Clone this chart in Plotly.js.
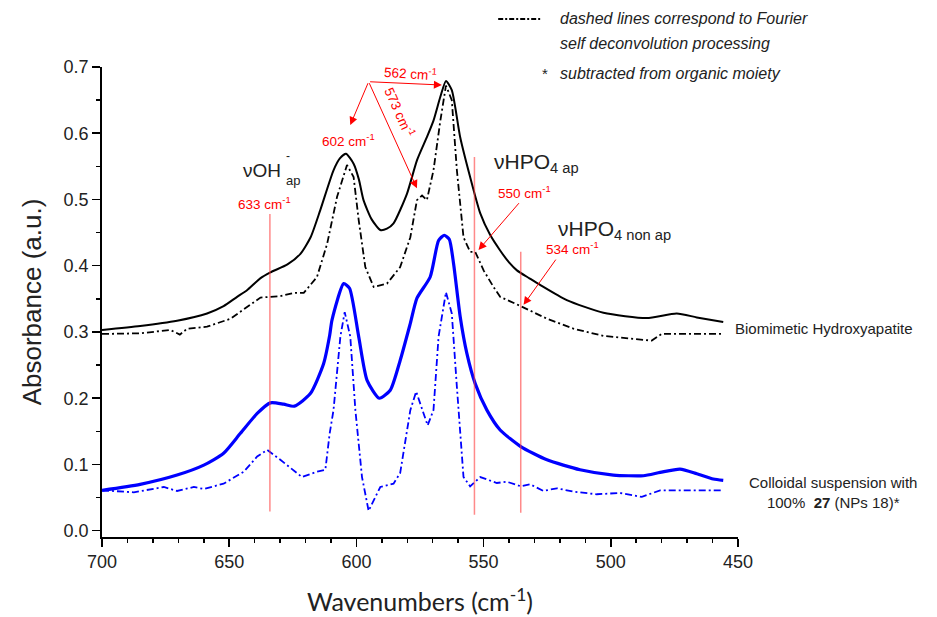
<!DOCTYPE html>
<html>
<head>
<meta charset="utf-8">
<script src="https://cdn.plot.ly/plotly-3.0.1.min.js"></script>
<style>html,body{margin:0;padding:0;background:#fff;}#chart{width:937px;height:617px;}</style>
</head>
<body>
<div id="chart"></div>
<script>
// ---- Data ----
const haSolidX = [700, 685, 670.5, 658.7, 652.2, 646.9, 643, 637.8, 633.8, 627.1, 622, 618, 614.2, 609, 606.5, 604.1, 601.1, 599, 597.2, 594, 590.6, 588, 585.4, 580.1, 576.2, 572.3, 569.7, 567, 564.8, 562.5, 559.2, 555.3, 551.3, 547.5, 543.5, 540, 536.9, 532, 527.8, 517.3, 502.9, 485.9, 474.1, 466.2, 455.8];
const haSolidY = [0.303, 0.309, 0.317, 0.328, 0.339, 0.353, 0.363, 0.381, 0.390, 0.402, 0.418, 0.443, 0.484, 0.544, 0.562, 0.569, 0.554, 0.53, 0.499, 0.47, 0.454, 0.456, 0.464, 0.509, 0.559, 0.594, 0.619, 0.655, 0.679, 0.665, 0.594, 0.534, 0.479, 0.447, 0.423, 0.405, 0.393, 0.381, 0.371, 0.348, 0.329, 0.321, 0.328, 0.322, 0.315];

const haFsdX = [700, 685, 673.1, 669.4, 666.5, 658.7, 649.5, 643, 637.7, 629.9, 624.7, 620.7, 615.5, 611.5, 607.6, 603.7, 601.1, 599.1, 596.5, 593.2, 588, 582.8, 578.8, 576.2, 574.2, 572.3, 569.7, 567, 564.8, 562.5, 560.5, 557.9, 555.3, 553.3, 550, 546.1, 543.5, 535.4, 525.1, 514.7, 502.9, 492.4, 483.9, 480, 455.8];
const haFsdY = [0.297, 0.298, 0.303, 0.296, 0.305, 0.308, 0.320, 0.338, 0.352, 0.354, 0.359, 0.359, 0.383, 0.433, 0.504, 0.552, 0.534, 0.469, 0.398, 0.368, 0.373, 0.398, 0.443, 0.499, 0.506, 0.499, 0.544, 0.619, 0.672, 0.650, 0.544, 0.443, 0.421, 0.421, 0.393, 0.368, 0.353, 0.339, 0.320, 0.305, 0.294, 0.290, 0.287, 0.297, 0.297];

const colSolidX = [700, 685, 670.5, 660, 652.2, 645.6, 639, 633.8, 628.6, 624.4, 618.1, 612.9, 610.5, 609.6, 605, 602.7, 599.1, 595.8, 591, 586.7, 582.8, 578.8, 576.2, 571, 567.7, 565.5, 563.5, 561.8, 559.2, 556.6, 553.3, 548.7, 543.5, 535.4, 525.1, 512.1, 499, 487.2, 480.6, 472.8, 466.2, 459.7, 455.8];
const colSolidY = [0.061, 0.070, 0.084, 0.099, 0.117, 0.147, 0.177, 0.193, 0.191, 0.188, 0.207, 0.252, 0.295, 0.318, 0.373, 0.366, 0.293, 0.227, 0.200, 0.212, 0.257, 0.313, 0.351, 0.383, 0.438, 0.446, 0.440, 0.403, 0.323, 0.268, 0.222, 0.182, 0.152, 0.127, 0.107, 0.092, 0.084, 0.083, 0.088, 0.093, 0.086, 0.078, 0.076];

const colFsdX = [700, 687.5, 675.7, 670.5, 663.9, 660, 652.2, 644.3, 639, 635.1, 629.9, 621.4, 615.5, 612.2, 610.5, 609, 606.3, 604.6, 602.4, 600.4, 597.8, 595.2, 590.6, 585.4, 582.8, 578.8, 576.5, 574.2, 572, 569.7, 567.7, 564.8, 562.5, 560.5, 557.9, 555.3, 551.3, 544.8, 540.9, 535.4, 531.7, 526.5, 521.2, 514.7, 505.5, 496.4, 487.8, 480.6, 455.8];
const colFsdY = [0.061, 0.058, 0.066, 0.060, 0.066, 0.063, 0.071, 0.089, 0.112, 0.122, 0.107, 0.081, 0.089, 0.092, 0.147, 0.182, 0.293, 0.330, 0.293, 0.182, 0.081, 0.030, 0.066, 0.071, 0.087, 0.182, 0.210, 0.182, 0.159, 0.182, 0.293, 0.360, 0.328, 0.217, 0.081, 0.067, 0.081, 0.072, 0.074, 0.067, 0.070, 0.060, 0.064, 0.059, 0.055, 0.057, 0.051, 0.061, 0.061];

// band marker lines (wavenumber, bottom, top)
const bandLineX = [634.0, 553.6, 535.4];
const bandLineY0 = [0.029, 0.024, 0.027];
const bandLineY1 = [0.478, 0.564, 0.421];

const xTickVals = [700, 650, 600, 550, 500, 450];
const yTickVals = [0.0, 0.1, 0.2, 0.3, 0.4, 0.5, 0.6, 0.7];

const RED = '#ff0000';
const TXT = '#222222';
const FONT = 'Liberation Sans, Arial, sans-serif';

const traces = [
  {x: haSolidX, y: haSolidY, mode: 'lines', line: {color: '#000', width: 2, shape: 'spline', smoothing: 0.6}, name: 'HA'},
  {x: haFsdX, y: haFsdY, mode: 'lines', line: {color: '#000', width: 1.8, dash: '7px,3px,2px,3px'}, name: 'HA FSD'},
  {x: colSolidX, y: colSolidY, mode: 'lines', line: {color: '#0000ff', width: 3.2, shape: 'spline', smoothing: 0.6}, name: 'Colloidal'},
  {x: colFsdX, y: colFsdY, mode: 'lines', line: {color: '#0000ff', width: 1.8, dash: '7px,3px,2px,3px'}, name: 'Colloidal FSD'}
];

const shapes = bandLineX.map((bx, i) => ({
  type: 'line', xref: 'x', yref: 'y', x0: bx, x1: bx, y0: bandLineY0[i], y1: bandLineY1[i],
  line: {color: 'rgba(255,60,60,0.6)', width: 1.5}, layer: 'above'
}));
// dash-dot sample next to the note
shapes.push({type: 'line', xref: 'paper', yref: 'paper', x0: (498 - 101.5) / 636.5, x1: (540 - 101.5) / 636.5,
  y0: (537 - 19) / 470, y1: (537 - 19) / 470, line: {color: '#000', width: 1.8, dash: '5px,2px,2px,2px'}});

function txt(x, y, text, size, color, extra) {
  return Object.assign({x: x, y: y, xref: 'x', yref: 'y', text: text, showarrow: false,
    xanchor: 'center', yanchor: 'middle',
    font: {family: FONT, size: size, color: color}}, extra || {});
}
function arrow(hx, hy, tx, ty) {
  return {x: hx, y: hy, ax: tx, ay: ty, xref: 'x', yref: 'y', axref: 'x', ayref: 'y', text: '',
    showarrow: true, arrowhead: 2, arrowsize: 1.6, arrowwidth: 1, arrowcolor: RED};
}
function ptxt(px, py, text, size, extra) {
  return Object.assign({x: (px - 101.5) / 636.5, y: (537 - py) / 470, xref: 'paper', yref: 'paper', text: text,
    showarrow: false, yanchor: 'middle', font: {family: FONT, size: size, color: TXT}}, extra || {});
}

const annotations = [
  txt(637.1, 0.5445, 'νOH', 19, TXT),
  txt(626.9, 0.565, '-', 12, TXT),
  txt(624.8, 0.529, 'ap', 13, TXT),
  txt(636, 0.4947, '633 cm<sup>-1</sup>', 13.5, RED),
  txt(606.2, 0.704, 'ν<sub>4</sub>PO<sub>4</sub>', 22, TXT),
  txt(603.0, 0.5898, '602 cm<sup>-1</sup>', 13.5, RED),
  txt(578.6, 0.6905, '562 cm<sup>-1</sup>', 13.5, RED, {textangle: 4}),
  txt(582.8, 0.6325, '573 cm<sup>-1</sup>', 13.5, RED, {textangle: 66}),
  arrow(602.4, 0.6124, 595.2, 0.6778),
  arrow(566.4, 0.6728, 595.2, 0.6778),
  arrow(576.2, 0.5169, 595.2, 0.6778),
  txt(529.1, 0.555, 'νHPO<sub>4 ap</sub>', 21, TXT),
  txt(534.1, 0.5113, '550 cm<sup>-1</sup>', 13.5, RED),
  arrow(552.0, 0.4238, 535.6, 0.4967),
  txt(498.7, 0.4535, 'νHPO<sub>4 non ap</sub>', 21, TXT),
  txt(515.0, 0.4268, '534 cm<sup>-1</sup>', 13.5, RED),
  arrow(534.3, 0.341, 521.2, 0.4115),
  ptxt(733, 328, 'Biomimetic Hydroxyapatite', 15, {xanchor: 'left'}),
  ptxt(833, 492, 'Colloidal suspension with<br>100%  <b>27</b> (NPs 18)*', 15, {xanchor: 'center'}),
  ptxt(558, 18, '<i>dashed lines correspond to Fourier</i>', 16, {xanchor: 'left'}),
  ptxt(558, 44, '<i>self deconvolution processing</i>', 16, {xanchor: 'left'}),
  ptxt(540, 73, '*', 15, {xanchor: 'left'}),
  ptxt(558, 73, '<i>subtracted from organic moiety</i>', 16, {xanchor: 'left'})
];

const layout = {
  width: 937, height: 617,
  margin: {l: 101.5, r: 198.5, t: 67, b: 80},
  paper_bgcolor: '#fff', plot_bgcolor: '#fff',
  showlegend: false,
  font: {family: FONT, color: TXT},
  xaxis: {
    range: [700, 450], autorange: false,
    tickvals: xTickVals, ticktext: xTickVals.map(String),
    ticks: 'outside', ticklen: 8, tickwidth: 1.5, tickcolor: '#000',
    minor: {dtick: 10, tick0: 450, ticks: 'outside', ticklen: 4, tickwidth: 1.5, tickcolor: '#000'},
    showline: true, linecolor: '#000', linewidth: 1.8, showgrid: false, zeroline: false,
    tickfont: {family: FONT, size: 18, color: TXT},
    title: {text: 'Wavenumbers (cm<sup>-1</sup>)', font: {family: 'Lato, Open Sans, sans-serif', size: 25, color: TXT}, standoff: 22}
  },
  yaxis: {
    range: [-0.0095, 0.7], autorange: false,
    tickvals: yTickVals, ticktext: yTickVals.map(v => v.toFixed(1)),
    ticks: 'outside', ticklen: 8, tickwidth: 1.5, tickcolor: '#000',
    minor: {dtick: 0.05, tick0: 0, ticks: 'outside', ticklen: 4, tickwidth: 1.5, tickcolor: '#000'},
    showline: true, linecolor: '#000', linewidth: 1.8, showgrid: false, zeroline: false,
    tickfont: {family: FONT, size: 18, color: TXT},
    title: {text: 'Absorbance (a.u.)', font: {family: FONT, size: 26, color: TXT}, standoff: 14}
  },
  shapes: shapes,
  annotations: annotations
};

Plotly.newPlot('chart', traces, layout, {displayModeBar: false, staticPlot: true});
</script>
</body>
</html>
